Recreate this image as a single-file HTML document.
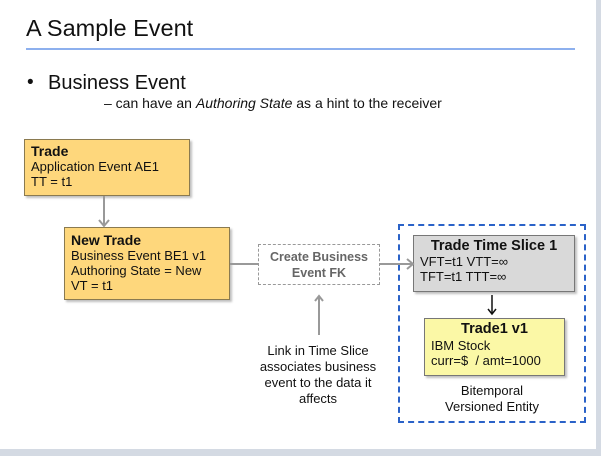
<!DOCTYPE html>
<html><head><meta charset="utf-8"><style>
body{margin:0;width:601px;height:456px;overflow:hidden;background:#fff;font-family:"Liberation Sans",Arial,sans-serif;position:relative}
.a{position:absolute}
.box{position:absolute;box-sizing:border-box;font-size:13px;line-height:15px;color:#111;box-shadow:2px 2px 2px rgba(0,0,0,.25)}
</style></head><body>
<div class="a" style="right:0;top:0;width:5px;height:456px;background:#d4dae3"></div>
<div class="a" style="left:0;bottom:0;width:601px;height:7px;background:#d4dae3"></div>
<div class="a" style="left:26px;top:15px;font-size:23.5px;color:#111">A Sample Event</div>
<div class="a" style="left:26px;top:48px;width:549px;height:2px;background:#8db0ee"></div>
<div class="a" style="left:27px;top:72px;font-size:19px;color:#111">•</div>
<div class="a" style="left:48px;top:72px;font-size:20px;color:#111">Business Event</div>
<div class="a" style="left:104px;top:95px;font-size:14px;color:#111">– can have an <i>Authoring State</i> as a hint to the receiver</div>

<div class="box" style="left:24px;top:139px;width:166px;height:57px;background:#fed77c;border:1px solid #8a7a50;padding:4px 6px"><b style="font-size:14px">Trade</b><br>Application Event AE1<br>TT = t1</div>
<div class="box" style="left:64px;top:227px;width:166px;height:73px;background:#fed77c;border:1px solid #8a7a50;padding:5px 6px"><b style="font-size:14px">New Trade</b><br>Business Event BE1 v1<br>Authoring State = New<br>VT = t1</div>
<div class="box" style="left:258px;top:244px;width:122px;height:41px;border:1px dashed #999;box-shadow:none;text-align:center;color:#666;font-weight:bold;font-size:12.5px;line-height:16px;padding-top:4px">Create Business<br>Event FK</div>
<div class="a" style="left:398px;top:224px;width:184px;height:195px;border:2px dashed #2a62c8"></div>
<div class="box" style="left:413px;top:235px;width:162px;height:57px;background:#d9d9d9;border:1px solid #777;padding:3px 6px"><div style="text-align:center;font-weight:bold;font-size:14.5px">Trade Time Slice 1</div>VFT=t1 VTT=∞<br>TFT=t1 TTT=∞</div>
<div class="box" style="left:424px;top:318px;width:141px;height:58px;background:#fbf8a6;border:1px solid #777;padding:2px 6px"><div style="text-align:center;font-weight:bold;font-size:14.5px;line-height:17px">Trade1 v1</div>IBM Stock<br>curr=$&nbsp; / amt=1000</div>
<div class="a" style="left:420px;top:383px;width:144px;text-align:center;font-size:13px;line-height:16px;color:#111">Bitemporal<br>Versioned Entity</div>
<div class="a" style="left:238px;top:343px;width:160px;text-align:center;font-size:13px;line-height:16px;color:#111">Link in Time Slice<br>associates business<br>event to the data it<br>affects</div>
<svg class="a" style="left:0;top:0" width="601" height="456">
<g stroke="#999" stroke-width="2" fill="none">
<line x1="104" y1="196" x2="104" y2="226"/><polyline points="99,220 104,226 109,220"/>
<line x1="230" y1="264" x2="258" y2="264"/>
<line x1="380" y1="264" x2="413" y2="264"/><polyline points="407,259 413,264 407,269"/>
<line x1="319" y1="335" x2="319" y2="296"/><polyline points="315,301 319,296 323,301"/>
</g>
<g stroke="#111" stroke-width="1.5" fill="none">
<line x1="492" y1="295" x2="492" y2="314"/><polyline points="488,309 492,314 496,309"/>
</g>
</svg>
</body></html>
